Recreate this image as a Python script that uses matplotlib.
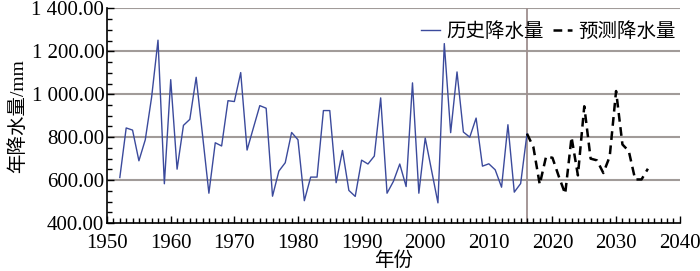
import matplotlib
matplotlib.use("Agg")
import matplotlib.pyplot as plt
from matplotlib.ticker import MultipleLocator, FuncFormatter

plt.rcParams['font.family'] = ['Liberation Serif', 'Noto Sans CJK SC', 'DejaVu Sans']

hist_years = list(range(1952, 2017))
hist_values = [612, 843, 833, 690, 788, 987, 1252, 583, 1068, 651,
               855, 883, 1079, 810, 539, 774, 759, 970, 966, 1101,
               740, 844, 947, 935, 525, 642, 681, 822, 788, 504,
               614, 614, 924, 924, 588, 738, 552, 524, 693, 675,
               712, 983, 539, 594, 675, 570, 1053, 539, 796, 645,
               494, 1236, 821, 1104, 824, 800, 889, 665, 676, 648,
               567, 858, 544, 584, 816]

fc_years = list(range(2016, 2036))
fc_values = [816, 754, 580, 710, 704, 617, 536, 800, 622, 944,
             700, 692, 633, 710, 1015, 766, 735, 603, 603, 653]

split_year = 2016
legend_labels = ['历史降水量', '预测降水量']
xlabel = '年份'
ylabel = '年降水量/mm'

fig = plt.figure(figsize=(7.0, 2.71), dpi=100)
ax = fig.add_axes([0.153, 0.177, 0.818, 0.792])

grid_c = '#a19b99'
for v in [600, 800, 1000, 1200, 1400]:
    ax.axhline(v, color=grid_c, lw=1.5, zorder=1)
ax.axvline(split_year, color='#9e8f8f', lw=1.3, zorder=1)

ax.plot(hist_years, hist_values, color='#3b4a9c', lw=1.0, zorder=3, label=legend_labels[0])
ax.plot(fc_years, fc_values, color='black', lw=1.8, ls=(0, (3.5, 2.2)), zorder=3, label=legend_labels[1])

ax.set_xlim(1950, 2040)
ax.set_ylim(400, 1400)
ax.xaxis.set_major_locator(MultipleLocator(10))
ax.xaxis.set_minor_locator(MultipleLocator(1))
ax.yaxis.set_major_locator(MultipleLocator(200))
ax.yaxis.set_minor_locator(MultipleLocator(50))

def yfmt(v, pos):
    s = f"{v:,.2f}".replace(',', ' ')
    return s
ax.yaxis.set_major_formatter(FuncFormatter(yfmt))

for s in ['top', 'right']:
    ax.spines[s].set_visible(False)
ax.spines['left'].set_linewidth(1.2)
ax.spines['bottom'].set_linewidth(1.2)
ax.tick_params(axis='both', which='major', direction='in', length=5, width=1.0, labelsize=15)
ax.tick_params(axis='y', which='major', pad=2)
ax.tick_params(axis='x', which='major', pad=8)
ax.tick_params(axis='both', which='minor', direction='in', length=3.5, width=1.0)
ax.tick_params(axis='y', which='both', right=False)
ax.tick_params(axis='x', which='both', top=False)

ax.set_xlabel(xlabel, fontsize=14, labelpad=-1)
ax.set_ylabel(ylabel, fontsize=14, labelpad=3)

leg = ax.legend(loc='upper right', bbox_to_anchor=(1.0, 0.955), ncol=2, frameon=False,
                fontsize=14, handlelength=1.0, handletextpad=0.3, columnspacing=0.5,
                borderaxespad=0.0, borderpad=0.2)

fig.savefig('out.png', dpi=100)
